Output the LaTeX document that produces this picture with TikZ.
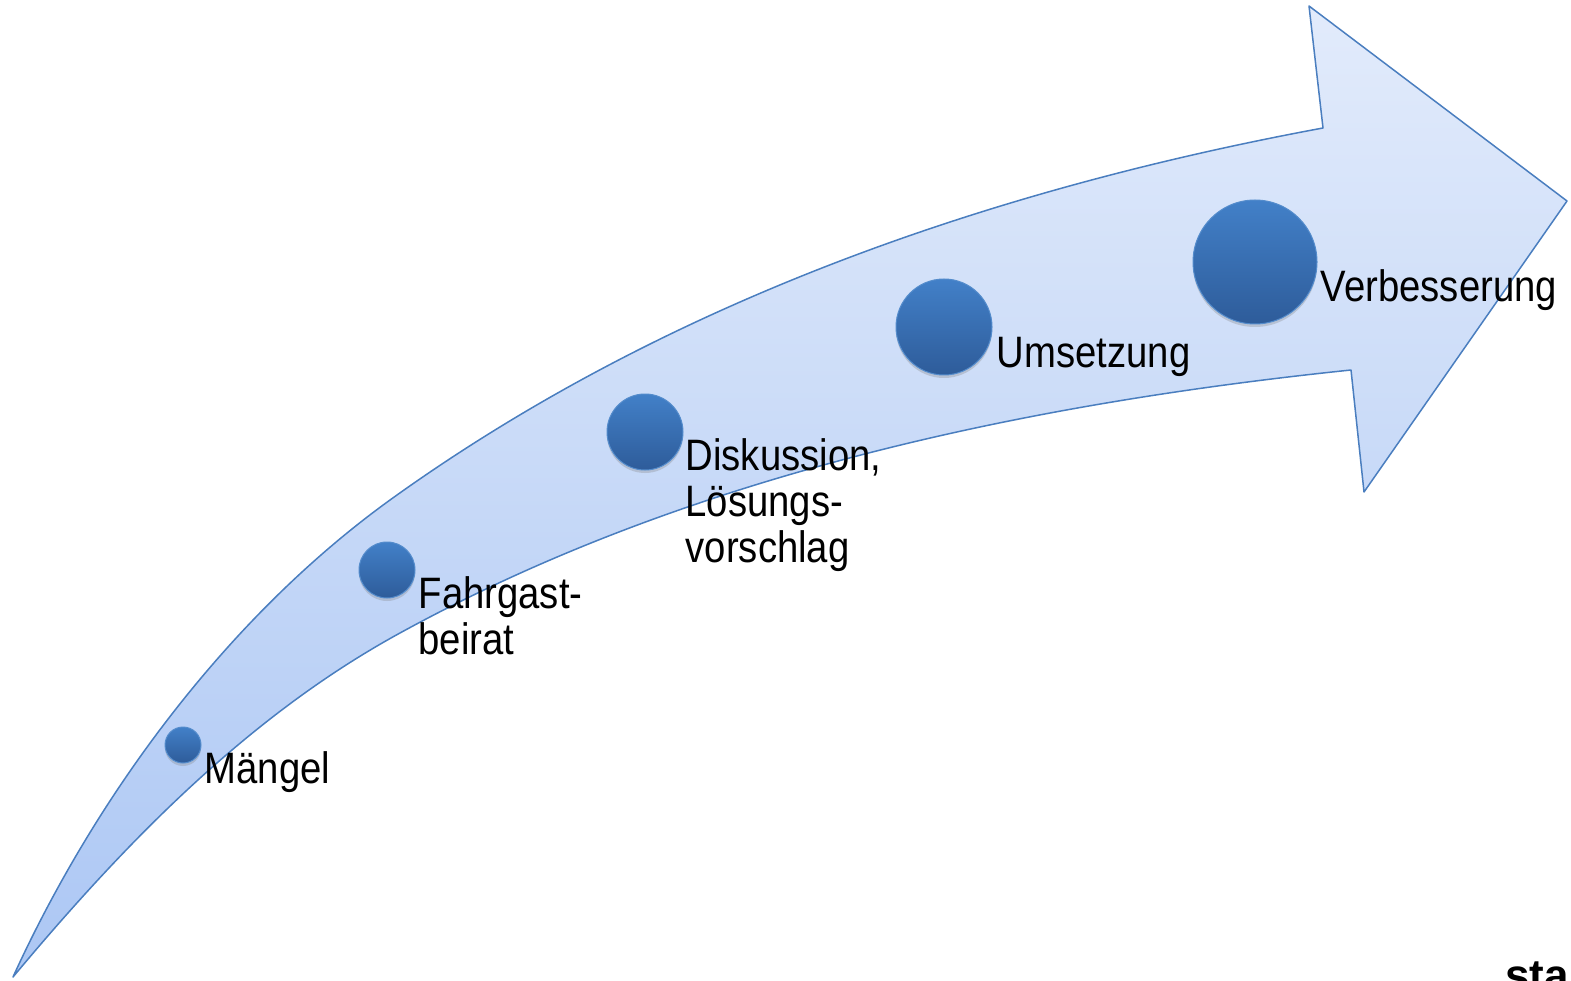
\documentclass[tikz,border=0pt]{standalone}
\usepackage{fontspec}
\setmainfont{Liberation Sans}[FakeStretch=0.87]
\newfontfamily\markfont{Liberation Sans}
\usetikzlibrary{shadows,positioning}
\definecolor{arrowtop}{RGB}{226,235,251}
\definecolor{arrowbot}{RGB}{172,199,244}
\definecolor{arrowline}{RGB}{74,126,191}
\definecolor{dottop}{RGB}{66,128,200}
\definecolor{dotbot}{RGB}{46,92,154}
\definecolor{dotline}{RGB}{84,140,204}

\begin{document}
\begin{tikzpicture}[x=1pt,y=-1pt,line cap=round,line join=round,
  dot/.style={circle,draw=dotline,line width=1pt,top color=dottop,bottom color=dotbot,inner sep=0pt,
    drop shadow={shadow xshift=0pt,shadow yshift=-3pt,opacity=0.3}},
  lbl/.style={anchor=base west,inner sep=0pt,align=left,font=\fontsize{44}{46}\selectfont}]
\useasboundingbox (0,0) rectangle (1571,981);
\clip (0,0) rectangle (1571,981);
\draw[top color=arrowtop,bottom color=arrowbot,draw=arrowline,line width=1.5pt]
  (13,977) .. controls (96,795) and (228,617) .. (390,500)
  .. controls (625,331) and (929,201) .. (1323,128)
  -- (1309,6) -- (1567,201) -- (1364,492) -- (1351,370)
  .. controls (1024,404) and (688,475) .. (400,633)
  .. controls (248,716) and (124,844) .. (13,977) -- cycle;
\node[dot,minimum size=36] (m) at (183,745) {};
\node[dot,minimum size=56] (f) at (387,570) {};
\node[dot,minimum size=76] (d) at (645,432) {};
\node[dot,minimum size=96] (u) at (944,327) {};
\node[dot,minimum size=124] (v) at (1255,262) {};
\node[lbl] (mt) at ([shift={(3,38)}]m.east) {Mängel};
\node[lbl] (ft) at ([shift={(3,84)}]f.east) {Fahrgast-\\beirat};
\node[lbl] (dt) at ([shift={(2,130)}]d.east) {Diskussion,\\Lösungs-\\vorschlag};
\node[lbl] (ut) at ([shift={(4,40)}]u.east) {Umsetzung};
\node[lbl] (vt) at ([shift={(3,40)}]v.east) {Verbesserung};
\node[anchor=base west,inner sep=0pt,font=\markfont\bfseries\fontsize{44}{46}\selectfont] (logo) at (1505,990) {sta};
\end{tikzpicture}
\end{document}
